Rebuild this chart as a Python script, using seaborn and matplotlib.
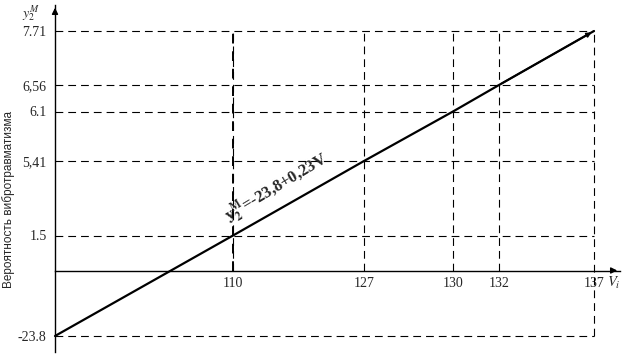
import numpy as np
import matplotlib
matplotlib.use("Agg")
import matplotlib.pyplot as plt
import seaborn as sns

# values
v_ticks = [110, 127, 130, 132, 137]
v_labels = ["110", "127", "130", "132", "137"]
y_ticks = [-23.8, 0, 1.5, 5.41, 6.1, 6.56, 7.71]
y_labels = ["-23.8", "", "1.5", "5,41", "6.1", "6,56", "7.71"]
v_line = [0, 110, 127, 130, 132, 137]
y_line = [-23.8, 1.5, 5.41, 6.1, 6.56, 7.71]

# the axes are schematic (not to scale): page position of each value, px
x_knots = [0, 110, 127, 130, 132, 137]
x_px = [55, 233, 364, 453, 499, 594]
y_knots = [-23.8, 0, 1.5, 5.41, 6.1, 6.56, 7.71]
y_px = [20, 85.5, 120.5, 195, 244.5, 271, 325]  # from the bottom edge

W, H = 625, 356


def piecewise(a, b):
    a = np.asarray(a, float)
    b = np.asarray(b, float)

    def f(v):
        v = np.asarray(v, float)
        out = np.interp(v, a, b)
        lo = b[0] + (v - a[0]) * (b[1] - b[0]) / (a[1] - a[0])
        hi = b[-1] + (v - a[-1]) * (b[-1] - b[-2]) / (a[-1] - a[-2])
        out = np.where(v < a[0], lo, out)
        out = np.where(v > a[-1], hi, out)
        return out
    return f


fx, fx_inv = piecewise(x_knots, x_px), piecewise(x_px, x_knots)
fy, fy_inv = piecewise(y_knots, y_px), piecewise(y_px, y_knots)

sns.set_style("white")
plt.rcParams["font.family"] = ["Liberation Serif", "DejaVu Serif"]
plt.rcParams["mathtext.fontset"] = "stix"

fig = plt.figure(figsize=(W / 100, H / 100), dpi=100)
ax = fig.add_axes([0, 0, 1, 1])

sns.lineplot(x=v_line, y=y_line, color="black", lw=1.6, ax=ax)

ax.set_xscale("function", functions=(fx, fx_inv))
ax.set_yscale("function", functions=(fy, fy_inv))
ax.set_xlim(float(fx_inv(0)), float(fx_inv(W)))
ax.set_ylim(float(fy_inv(0)), float(fy_inv(H)))

# dashed guide lines
dash = dict(color="black", lw=0.8, linestyles=(0, (7, 4.5)))
top = y_ticks[-1]
ax.hlines([y for y in y_ticks if y != 0], 0, v_ticks[-1], **dash)
for v in v_ticks:
    lo = y_ticks[0] if v == v_ticks[-1] else 0
    ax.vlines(v, lo, top, **dash)
ax.vlines(v_ticks[0], 0, top, color="black", lw=1.4, linestyles=(0, (5, 4)))

# axis lines through the origin with arrows
for s in ["top", "right"]:
    ax.spines[s].set_visible(False)
ax.spines["left"].set_position(("data", 0))
ax.spines["bottom"].set_position(("data", 0))
x_end = float(fx_inv(620))
y_end = float(fy_inv(H - 5))
ax.spines["bottom"].set_bounds(0, x_end)
ax.spines["left"].set_bounds(float(fy_inv(4)), y_end)
for s in ["left", "bottom"]:
    ax.spines[s].set_color("black")
    ax.spines[s].set_linewidth(1.0)

arrow = dict(arrowstyle="-|>", color="black", lw=1.0, mutation_scale=9)
ax.annotate("", xy=(x_end, 0), xytext=(float(fx_inv(610)), 0), arrowprops=arrow)
ax.annotate("", xy=(0, y_end), xytext=(0, float(fy_inv(H - 15))), arrowprops=arrow)
ax.annotate("", xy=(v_line[-1], y_line[-1]), xytext=(v_line[-2], y_line[-2]),
            arrowprops=dict(arrowstyle="-|>", color="black", lw=1.2, mutation_scale=7))

ax.set_xticks(v_ticks, v_labels)
ax.set_yticks(y_ticks, y_labels)
ax.xaxis.set_minor_locator(matplotlib.ticker.NullLocator())
ax.yaxis.set_minor_locator(matplotlib.ticker.NullLocator())
ax.tick_params(axis="x", direction="in", length=5, width=1, pad=5, labelsize=10)
ax.tick_params(axis="y", direction="out", length=4, width=1, pad=2, labelsize=10)

ax.annotate(r"$\mathbf{y}_\mathbf{2}^\mathbf{M}$=-23,8+0,23V",
            xy=(v_ticks[0], y_line[1]), xytext=(0, 5),
            textcoords="offset points", rotation=31, rotation_mode="anchor",
            ha="left", va="bottom", fontsize=12, fontweight="bold")

fig.text(22 / W, 1 - 14 / H, r"$y_2^M$", fontsize=10, va="center")
fig.text(607 / W, 1 - 283 / H, r"$V_i$", fontsize=10.5, va="center")
fig.text(9 / W, 1 - 199 / H, "Вероятность вибротравматизма", rotation=90,
         ha="center", va="center", fontsize=8.5, family=["Liberation Sans", "DejaVu Sans"])

fig.savefig("out.png", dpi=100)
